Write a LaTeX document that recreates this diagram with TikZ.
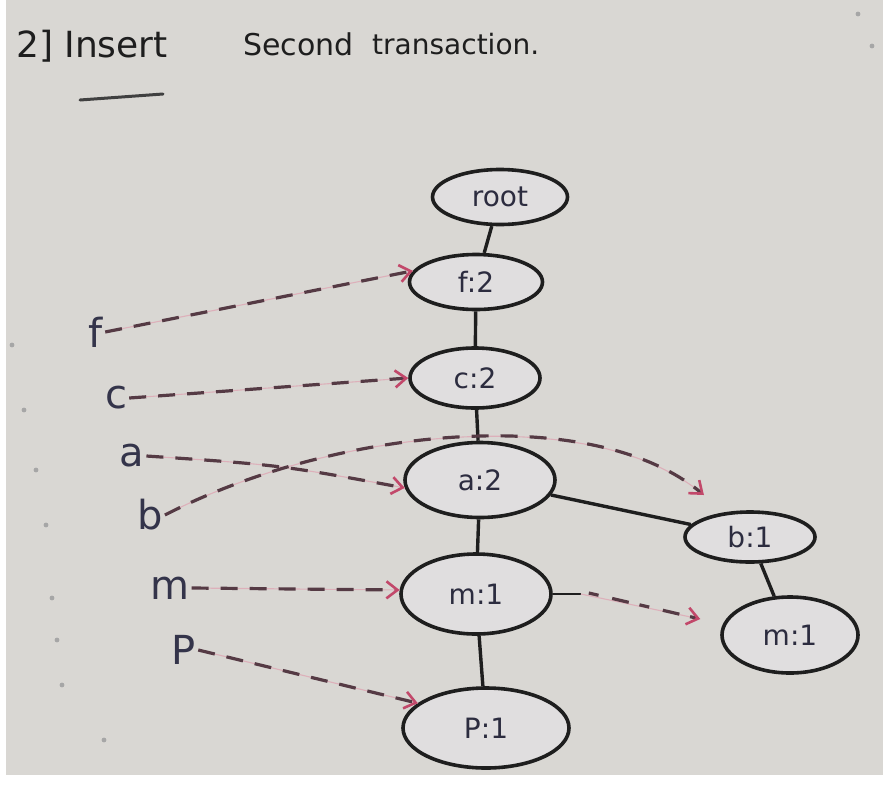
\documentclass[tikz,border=0pt]{standalone}
\usepackage{fontspec}
\setmainfont{DejaVu Sans}
\usetikzlibrary{shapes.geometric,arrows.meta}
\definecolor{paper}{HTML}{D9D7D3}
\definecolor{nodefill}{HTML}{E0DEDF}
\definecolor{ink}{HTML}{1E1E1E}
\definecolor{label}{HTML}{34344A}
\definecolor{dashink}{HTML}{553A44}
\definecolor{pinkline}{HTML}{DDB0BA}
\definecolor{tipred}{HTML}{C2486A}
\tikzset{
  tnode/.style={ellipse, draw=ink, line width=3.6pt, fill=nodefill, inner sep=0pt,
    text=label!85!black, font=\fontsize{28}{32}\selectfont},
  lbl/.style={text=label, font=\fontsize{40}{44}\selectfont, inner sep=2pt},
  titletext/.style={anchor=west, text=ink, inner sep=0pt},
  edge/.style={draw=ink, line width=3.4pt},
  ptr/.style={draw=dashink, line width=3.2pt, dash pattern=on 17pt off 12pt,
    -{Straight Barb[length=11pt,width=17pt,color=tipred,line width=2.6pt]}},
  ptrbase/.style={draw=pinkline, line width=1.1pt}
}
\begin{document}
\begin{tikzpicture}[x=1pt,y=-1pt]
\useasboundingbox (0,0) rectangle (883,785);
\fill[paper] (0,0) rectangle (883,785);
\fill[white] (0,775) rectangle (883,785);
\fill[white] (0,0) rectangle (6,785);
% paper marks
\foreach \p in {(12,345),(24,410),(36,470),(46,525),(52,598),(57,640),(62,685),(104,740),(858,14),(872,46)}
  \fill[gray!70] \p circle (2.4pt);

% title
\node[titletext, font=\fontsize{36}{40}\selectfont] (title1) at (16,46) {2] Insert};
\node[titletext, font=\fontsize{30}{34}\selectfont] (title2) at (243,44) {Second};
\node[titletext, font=\fontsize{28}{32}\selectfont] (title3) at (372,44) {transaction.};
\draw[ink!85, line width=3pt, line cap=round] (80,100) -- (163,94);

% tree nodes
\node[tnode, minimum width=135pt, minimum height=55pt] (root) at (500,197) {root};
\node[tnode, minimum width=133pt, minimum height=55pt] (f2) at (476,282) {f:2};
\node[tnode, minimum width=130pt, minimum height=60pt] (c2) at (475,378) {c:2};
\node[tnode, minimum width=150pt, minimum height=75pt] (a2) at (480,480) {a:2};
\node[tnode, minimum width=130pt, minimum height=50pt] (b1) at (750,537) {b:1};
\node[tnode, minimum width=150pt, minimum height=80pt] (m1) at (476,594) {m:1};
\node[tnode, minimum width=136pt, minimum height=76pt] (m1r) at (790,635) {m:1};
\node[tnode, minimum width=166pt, minimum height=80pt] (p1) at (486,728) {P:1};

% tree edges
\draw[edge] (root) -- (f2);
\draw[edge] (f2) -- (c2);
\draw[edge] (c2) -- (a2);
\draw[edge] (a2) -- (m1);
\draw[edge] (m1) -- (p1);
\draw[edge] (a2) -- (b1);
\draw[edge] (b1) -- (m1r);

% header labels
\node[lbl] (lf) at (96,332) {f};
\node[lbl] (lc) at (116,398) {c};
\node[lbl] (la) at (132,456) {a};
\node[lbl] (lb) at (150,515) {b};
\node[lbl] (lm) at (170,588) {m};
\node[lbl] (lp) at (184,650) {P};

% pointer arrows
\draw[ptrbase] (lf.east) -- (f2.170);
\draw[ptr] (lf.east) -- (f2.170);
\draw[ptrbase] (lc.east) -- (c2.180);
\draw[ptr] (lc.east) -- (c2.180);
\draw[ptrbase] (la.east) .. controls (280,465) .. (a2.186);
\draw[ptr] (la.east) .. controls (280,465) .. (a2.186);
\draw[ptrbase] (lb.east) .. controls (330,430) and (590,400) .. ([xshift=-8pt,yshift=20pt]b1.150);
\draw[ptr] (lb.east) .. controls (330,430) and (590,400) .. ([xshift=-8pt,yshift=20pt]b1.150);
\draw[ptrbase] (lm.east) -- (m1.177);
\draw[ptr] (lm.east) -- (m1.177);
\draw[ptrbase] (lp.east) -- (p1.160);
\draw[ptr] (lp.east) -- (p1.160);
\draw[edge, line width=2.6pt] (m1.east) -- ++(28,0) coordinate (mstub);
\draw[ptrbase] (mstub) -- ([xshift=-20pt,yshift=16pt]m1r.west);
\draw[ptr, dash pattern=on 10pt off 14pt on 17pt off 11pt] ([xshift=8pt,yshift=1pt]mstub) -- ([xshift=-20pt,yshift=16pt]m1r.west);
\end{tikzpicture}
\end{document}
